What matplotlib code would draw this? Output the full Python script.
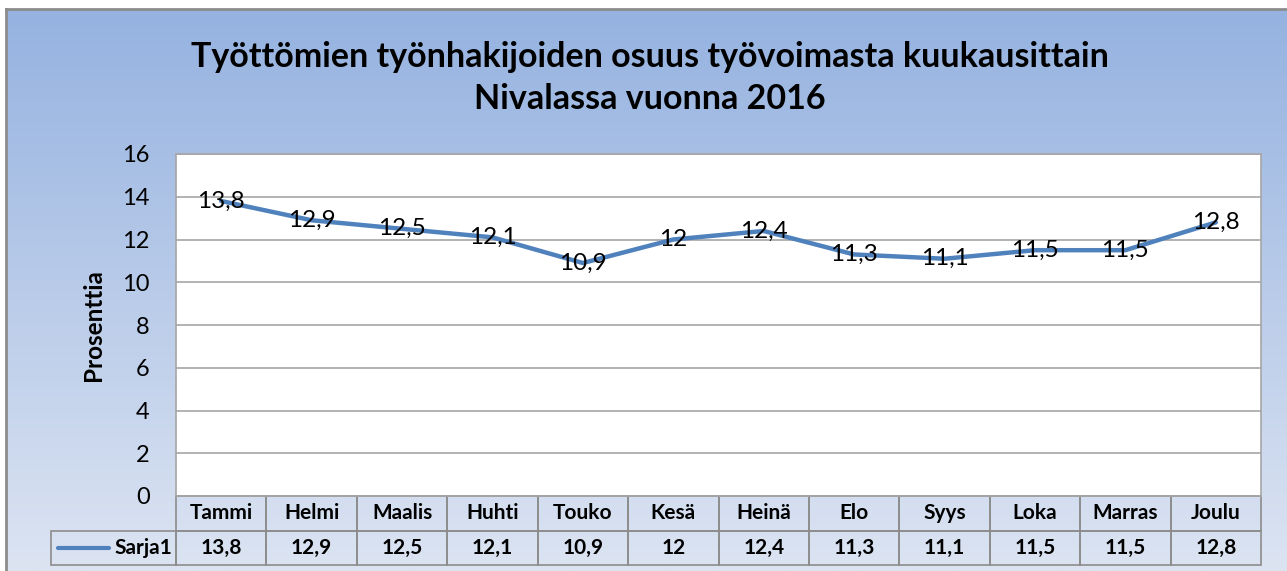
import numpy as np
import matplotlib.pyplot as plt

# --- data ---
months = ["Tammi", "Helmi", "Maalis", "Huhti", "Touko", "Kesä",
          "Heinä", "Elo", "Syys", "Loka", "Marras", "Joulu"]
values = [13.8, 12.9, 12.5, 12.1, 10.9, 12.0, 12.4, 11.3, 11.1, 11.5, 11.5, 12.8]
value_labels = ["13,8", "12,9", "12,5", "12,1", "10,9", "12",
                "12,4", "11,3", "11,1", "11,5", "11,5", "12,8"]
series_name = "Sarja1"
title = "Työttömien työnhakijoiden osuus työvoimasta kuukausittain\nNivalassa vuonna 2016"

W, H = 1287, 571
line_col = "#4F81BD"
grid_col = "#A6A6A6"

plt.rcParams['font.family'] = ['Lato', 'DejaVu Sans']

fig = plt.figure(figsize=(W / 100, H / 100), dpi=100)

# --- chart background: vertical gradient with grey frame ---
bg = fig.add_axes([6 / W, 0, 1 - 6 / W, (H - 9) / H], zorder=0)
top = np.array([0x95, 0xB2, 0xE0]) / 255
bot = np.array([0xDC, 0xE4, 0xF2]) / 255
t = np.linspace(0, 1, 256)[:, None]
grad = (top[None, :] * (1 - t) + bot[None, :] * t)[:, None, :]
bg.imshow(grad, aspect='auto', extent=[0, 1, 0, 1])
bg.set_xticks([])
bg.set_yticks([])
for s in ['right', 'bottom']:
    bg.spines[s].set_visible(False)
for s in ['left', 'top']:
    bg.spines[s].set_color("#8C8C8C")
    bg.spines[s].set_linewidth(2)

fig.text(650 / W, 1 - 78 / H, title, ha='center', va='center',
         fontsize=24.5, fontweight='bold', linespacing=1.42, zorder=5)

# --- plot area ---
x0, x1, y0, y1 = 176, 1261, 496, 154
ax = fig.add_axes([x0 / W, (H - y0) / H, (x1 - x0) / W, (y0 - y1) / H], zorder=2)
ax.set_facecolor("white")
x = np.arange(len(months))
ax.plot(x, values, color=line_col, lw=3.2, solid_capstyle='round', zorder=3)
for xi, v, lab in zip(x, values, value_labels):
    ax.text(xi, v, lab, ha='center', va='center', fontsize=17.5, zorder=4)

ax.set_xlim(-0.5, len(months) - 0.5)
ax.set_ylim(0, 16)
ax.set_yticks(range(0, 17, 2))
ax.tick_params(axis='y', length=0, labelsize=17, pad=19)
ax.set_xticks([])
ax.grid(axis='y', color=grid_col, lw=1.2)
ax.set_axisbelow(True)
for s in ax.spines.values():
    s.set_color(grid_col)
    s.set_linewidth(1.2)
ax.set_ylabel("Prosenttia", fontsize=17.5, fontweight='bold', labelpad=12)

# --- data table below the plot ---
cell_w = (x1 - x0) / len(months)
first_w = x0 - 51
row_h = 34.5
tab_h = 2 * row_h / (y0 - y1)
tab_left = -first_w / (x1 - x0)
cells = [[""] + months, [series_name] + [str(l) for l in value_labels]]
tab = ax.table(cellText=cells, colWidths=[first_w] + [cell_w] * len(months),
               bbox=[tab_left, -tab_h, 1 - tab_left, tab_h], cellLoc='center')
tab.auto_set_font_size(False)
for (r, c), cell in tab.get_celld().items():
    cell.set_facecolor('none')
    cell.set_edgecolor("#8C8C8C")
    cell.set_linewidth(1.2)
    cell.get_text().set_fontsize(15)
    cell.get_text().set_fontweight('bold')
    if r == 0 and c == 0:
        cell.visible_edges = ''
    if r == 1 and c == 0:
        cell.get_text().set_ha('right')
        cell.PAD = 0.03

# legend key line in the row label cell
ax.plot([tab_left + 7 / (x1 - x0), tab_left + 58 / (x1 - x0)],
        [-tab_h * 0.75, -tab_h * 0.75], color=line_col, lw=3,
        transform=ax.transAxes, clip_on=False, solid_capstyle='round')

fig.savefig("out.png", dpi=100)
